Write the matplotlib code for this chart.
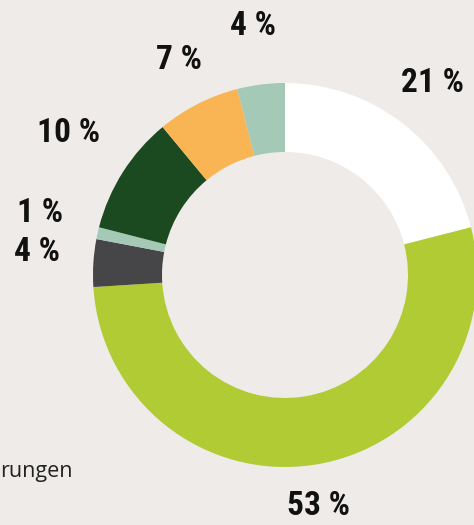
import matplotlib
matplotlib.use("Agg")
import matplotlib.pyplot as plt
from matplotlib import font_manager

shares = [21, 53, 4, 1, 10, 7, 4]
labels = ["21 %", "53 %", "4 %", "1 %", "10 %", "7 %", "4 %"]
colors = ["#ffffff", "#b0cb33", "#464547", "#a5c9b7", "#1b4a20", "#f9b453", "#a5c9b7"]
# label anchor: (center x, baseline y) in pixels from top-left
label_pos = [(433, 92), (319, 515), (37, 261), (40, 222), (69, 142), (179, 69), (253, 35)]
footer = "rungen"

names = {f.name for f in font_manager.fontManager.ttflist}
cond = "DejaVu Sans"
for cand in ["Roboto Condensed", "Archivo Narrow", "PT Sans Narrow", "Liberation Sans Narrow",
             "Barlow Condensed", "Pragati Narrow", "Oswald"]:
    if cand in names:
        cond = cand
        break

W, H = 474, 525
fig = plt.figure(figsize=(W / 100, H / 100), dpi=100)
fig.patch.set_facecolor("#eeebe8")
ax = fig.add_axes([0, 0, 1, 1])
ax.set_xlim(0, W)
ax.set_ylim(0, H)
ax.set_aspect("equal")
ax.axis("off")

ax.pie(shares, colors=colors, startangle=90, counterclock=False,
       center=(285, H - 275), radius=192,
       wedgeprops=dict(width=69, linewidth=0))
ax.set_xlim(0, W)
ax.set_ylim(0, H)

for lab, (x, y) in zip(labels, label_pos):
    ax.text(x, H - y, lab, ha="center", va="baseline", fontsize=24,
            fontweight="bold", family=cond, color="#111111")

ax.text(0, H - 477, footer, ha="left", va="baseline", fontsize=15.5,
        family="Open Sans", color="#222222")

fig.savefig("out.png", dpi=100, facecolor=fig.get_facecolor())
